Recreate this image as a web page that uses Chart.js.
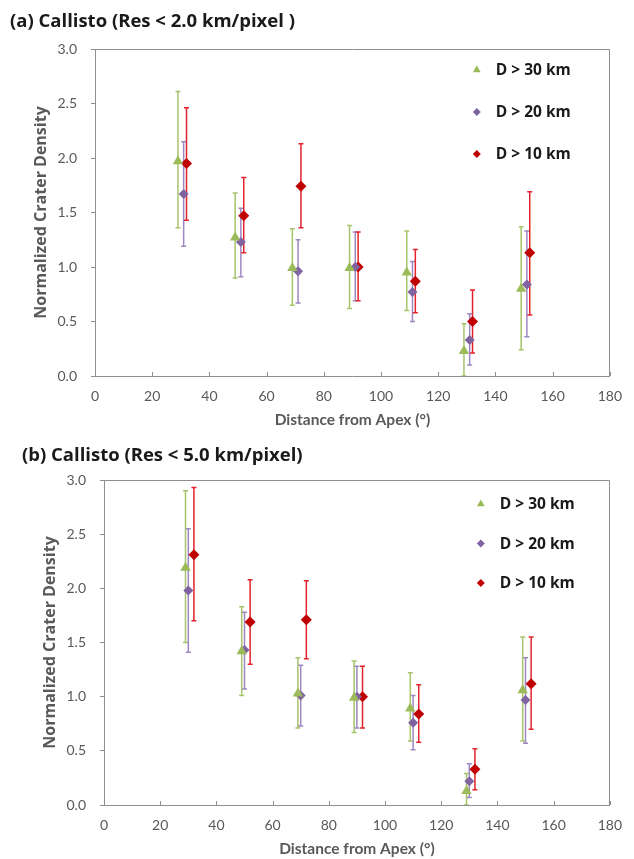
<!DOCTYPE html>
<html>
<head>
<meta charset="utf-8">
<script src="https://cdn.jsdelivr.net/npm/chart.js@4.4.1/dist/chart.umd.min.js"></script>
<style>
  html, body { margin: 0; padding: 0; background: #ffffff; }
  #wrap { position: relative; width: 634px; height: 859px; overflow: hidden; }
  .box { position: absolute; left: 0; width: 634px; }
  #boxA { top: 0; height: 440px; }
  #boxB { top: 440px; height: 419px; }
</style>
</head>
<body>
<div id="wrap">
  <div class="box" id="boxA"><canvas id="chartA"></canvas></div>
  <div class="box" id="boxB"><canvas id="chartB"></canvas></div>
</div>
<script>
// ---------------- DATA ----------------
const seriesLabels = ['D > 30 km', 'D > 20 km', 'D > 10 km'];
const xTickLabels = [0, 20, 40, 60, 80, 100, 120, 140, 160, 180];
const yTickLabels = [0.0, 0.5, 1.0, 1.5, 2.0, 2.5, 3.0];

// (a) Res < 2.0 km/pixel
const a30x    = [29, 49, 69, 89, 109, 129, 149];
const a30y    = [1.97, 1.27, 0.99, 0.99, 0.95, 0.23, 0.80];
const a30hi   = [2.61, 1.68, 1.35, 1.38, 1.33, 0.48, 1.37];
const a30lo   = [1.36, 0.90, 0.65, 0.62, 0.60, 0.00, 0.24];

const a20x    = [31, 51, 71, 91, 111, 131, 151];
const a20y    = [1.67, 1.23, 0.96, 1.00, 0.77, 0.33, 0.84];
const a20hi   = [2.15, 1.54, 1.25, 1.32, 1.05, 0.57, 1.33];
const a20lo   = [1.19, 0.91, 0.67, 0.69, 0.50, 0.10, 0.36];

const a10x    = [32, 52, 72, 92, 112, 132, 152];
const a10y    = [1.95, 1.47, 1.74, 1.00, 0.87, 0.50, 1.13];
const a10hi   = [2.46, 1.82, 2.13, 1.32, 1.16, 0.79, 1.69];
const a10lo   = [1.43, 1.13, 1.36, 0.69, 0.58, 0.21, 0.56];

// (b) Res < 5.0 km/pixel
const b30x    = [29, 49, 69, 89, 109, 129, 149];
const b30y    = [2.19, 1.42, 1.03, 0.99, 0.89, 0.13, 1.06];
const b30hi   = [2.90, 1.83, 1.36, 1.33, 1.22, 0.29, 1.55];
const b30lo   = [1.50, 1.01, 0.71, 0.67, 0.59, 0.00, 0.59];

const b20x    = [30, 50, 70, 90, 110, 130, 150];
const b20y    = [1.98, 1.43, 1.01, 1.00, 0.76, 0.22, 0.97];
const b20hi   = [2.55, 1.78, 1.29, 1.28, 1.01, 0.38, 1.36];
const b20lo   = [1.41, 1.07, 0.73, 0.71, 0.51, 0.07, 0.57];

const b10x    = [32, 52, 72, 92, 112, 132, 152];
const b10y    = [2.31, 1.69, 1.71, 1.00, 0.84, 0.33, 1.12];
const b10hi   = [2.93, 2.08, 2.07, 1.28, 1.11, 0.52, 1.55];
const b10lo   = [1.70, 1.30, 1.35, 0.71, 0.58, 0.14, 0.70];

// ---------------- STYLE ----------------
const markerColors = ['#9bbb59', '#8064a2', '#c00000'];
const barColors    = ['#a6c46a', '#9d88c0', '#e3232b'];
const markerStyles = ['triangle', 'rectRot', 'rectRot'];
const markerRadius = [6, 5, 5.5];
const axisColor = '#8f8f8f';
const textGray = '#595959';
const fontFam = 'Lato, "Liberation Sans", sans-serif';
const boldFam = '"Open Sans", Lato, sans-serif';

function pts(xs, ys) { return xs.map((x, i) => ({ x: x, y: ys[i] })); }

function makeDatasets(xsArr, ysArr, hiArr, loArr) {
  return seriesLabels.map((lab, k) => ({
    label: lab,
    data: pts(xsArr[k], ysArr[k]),
    errHi: hiArr[k],
    errLo: loArr[k],
    barColor: barColors[k],
    pointStyle: markerStyles[k],
    pointRadius: markerRadius[k],
    pointHoverRadius: markerRadius[k],
    backgroundColor: markerColors[k],
    borderColor: markerColors[k],
    borderWidth: 0,
    showLine: false
  }));
}

// Error bars + frame + inside x ticks, all through scales
const errorBarPlugin = {
  id: 'errorBars',
  beforeDatasetsDraw(chart) {
    const ctx = chart.ctx;
    const xs = chart.scales.x, ys = chart.scales.y;
    const ca = chart.chartArea;
    ctx.save();
    ctx.strokeStyle = axisColor;
    ctx.lineWidth = 1;
    ctx.beginPath();
    ctx.moveTo(Math.round(ca.left) + 0.5, Math.round(ca.top) + 0.5);
    ctx.lineTo(Math.round(ca.right) - 0.5, Math.round(ca.top) + 0.5);
    ctx.lineTo(Math.round(ca.right) - 0.5, Math.round(ca.bottom));
    ctx.stroke();
    ctx.beginPath();
    xTickLabels.forEach(v => {
      const px = Math.round(xs.getPixelForValue(v)) + 0.5;
      ctx.moveTo(px, ca.bottom);
      ctx.lineTo(px, ca.bottom - 4);
    });
    ctx.stroke();
    ctx.beginPath();
    ctx.rect(ca.left, ca.top, ca.right - ca.left, ca.bottom - ca.top);
    ctx.clip();
    chart.data.datasets.forEach(ds => {
      ctx.strokeStyle = ds.barColor;
      ctx.lineWidth = 1.5;
      ds.data.forEach((p, i) => {
        const px = xs.getPixelForValue(p.x);
        const yh = ys.getPixelForValue(ds.errHi[i]);
        const yl = ys.getPixelForValue(ds.errLo[i]);
        ctx.beginPath();
        ctx.moveTo(px, yh); ctx.lineTo(px, yl);
        ctx.moveTo(px - 2.5, yh); ctx.lineTo(px + 2.5, yh);
        ctx.moveTo(px - 2.5, yl); ctx.lineTo(px + 2.5, yl);
        ctx.stroke();
      });
    });
    ctx.restore();
  }
};

function buildConfig(opt) {
  return {
    type: 'scatter',
    data: { datasets: makeDatasets(opt.xs, opt.ys, opt.hi, opt.lo) },
    plugins: [errorBarPlugin, {
      id: 'innerLegend',
      afterDatasetsDraw(chart) {
        const ctx = chart.ctx;
        const ca = chart.chartArea;
        ctx.save();
        ctx.font = 'bold 15.5px ' + boldFam;
        ctx.textBaseline = 'middle';
        ctx.textAlign = 'left';
        chart.data.datasets.forEach((ds, k) => {
          const y = ca.top + opt.legFirst + k * opt.legGap;
          const mx = ca.right - opt.legFromRight;
          ctx.fillStyle = ds.backgroundColor;
          ctx.strokeStyle = ds.backgroundColor;
          Chart.helpers.drawPoint(ctx, {
            pointStyle: ds.pointStyle,
            radius: k === 0 ? 4.5 : 4,
            rotation: 0,
            borderWidth: 0
          }, mx, y);
          ctx.fillStyle = '#1a1a1a';
          ctx.fillText(ds.label, mx + 19, y + 1);
        });
        ctx.restore();
      }
    }],
    options: {
      responsive: true,
      maintainAspectRatio: false,
      animation: false,
      events: [],
      layout: { padding: { left: opt.padLeft, right: 14, top: 0, bottom: 0 } },
      plugins: {
        legend: { display: false },
        tooltip: { enabled: false },
        title: {
          display: true,
          text: opt.title,
          align: 'start',
          color: '#1a1a1a',
          font: { family: boldFam, size: 18.5, weight: 'bold' },
          padding: { top: opt.titleTop, bottom: opt.titleBottom }
        }
      },
      scales: {
        x: {
          type: 'linear',
          min: 0, max: 180,
          afterBuildTicks(s) { s.ticks = xTickLabels.map(v => ({ value: v })); },
          afterFit(s) { s.height = opt.xAxisH; },
          grid: { display: false, drawTicks: false },
          border: { display: true, color: axisColor, width: 1 },
          ticks: {
            color: textGray,
            font: { family: fontFam, size: 14 },
            padding: opt.xTickPad,
            maxRotation: 0,
            autoSkip: false
          },
          title: {
            display: true,
            text: 'Distance from Apex (°)',
            color: textGray,
            font: { family: fontFam, size: 15.5, weight: 'bold' },
            padding: { top: 0, bottom: opt.xTitleBottom }
          }
        },
        y: {
          type: 'linear',
          min: 0, max: 3,
          afterBuildTicks(s) { s.ticks = yTickLabels.map(v => ({ value: v })); },
          afterFit(s) { s.width = opt.yAxisW; },
          grid: { display: true, drawOnChartArea: false, drawTicks: true, tickLength: 4, color: axisColor },
          border: { display: true, color: axisColor, width: 1 },
          ticks: {
            color: textGray,
            font: { family: fontFam, size: 14 },
            padding: 14,
            callback: v => Number(v).toFixed(1)
          },
          title: {
            display: true,
            text: 'Normalized Crater Density',
            color: textGray,
            font: { family: boldFam, size: 16, weight: 'bold' },
            padding: { top: opt.yTitleTop, bottom: 0 }
          }
        }
      }
    }
  };
}

new Chart(document.getElementById('chartA'), buildConfig({
  title: '(a) Callisto (Res < 2.0 km/pixel )',
  xs: [a30x, a20x, a10x], ys: [a30y, a20y, a10y], hi: [a30hi, a20hi, a10hi], lo: [a30lo, a20lo, a10lo],
  padLeft: 10, yAxisW: 85, xAxisH: 64,
  titleTop: 10.9, titleBottom: 15.9,
  xTickPad: 12, xTitleBottom: 11, yTitleTop: 21.4,
  legFirst: 21, legGap: 42, legFromRight: 133
}));

new Chart(document.getElementById('chartB'), buildConfig({
  title: '(b) Callisto (Res < 5.0 km/pixel)',
  xs: [b30x, b20x, b10x], ys: [b30y, b20y, b10y], hi: [b30hi, b20hi, b10hi], lo: [b30lo, b20lo, b10lo],
  padLeft: 22, yAxisW: 82, xAxisH: 54,
  titleTop: 4.9, titleBottom: 12.9,
  xTickPad: 12, xTitleBottom: 0.5, yTitleTop: 18.4,
  legFirst: 24, legGap: 39.5, legFromRight: 129
}));
</script>
</body>
</html>
